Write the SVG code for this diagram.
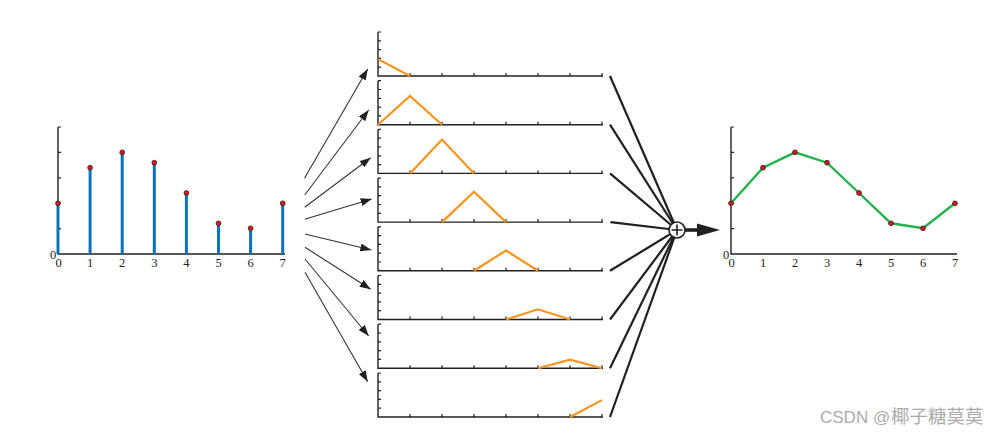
<svg xmlns="http://www.w3.org/2000/svg" width="1006" height="437" viewBox="0 0 1006 437">
<style>
.ax{stroke:#231f20;stroke-width:1.4;fill:none}
.tk{stroke:#231f20;stroke-width:1.2;fill:none}
.stem{stroke:#0a72b8;stroke-width:3}
.dot{fill:#d71920;stroke:#3a1a1a;stroke-width:0.8}
.lbl{font-family:"Liberation Serif",serif;font-size:12.5px;fill:#231f20;text-anchor:middle}
.tri{stroke:#f7941d;stroke-width:2.2;fill:none;stroke-linejoin:miter}
.arr{stroke:#333;stroke-width:1.1;fill:none}
.con{stroke:#231f20;stroke-width:2.2;fill:none}
.green{stroke:#22b14c;stroke-width:2.4;fill:none}
</style>
<defs>
<marker id="ah" markerUnits="userSpaceOnUse" markerWidth="11" markerHeight="8" refX="11" refY="4" orient="auto">
<path d="M0,0 L11,4 L0,8 z" fill="#231f20"/>
</marker>
<g id="ptick">
<path class="tk" d="M378,-8.8h3M378,-17.6h3M378,-26.4h3M378,-35.2h3M378,-44h3"/>
<path class="tk" d="M410,0v-3M442,0v-3M474,0v-3M506,0v-3M538,0v-3M570,0v-3M602,0v-3"/>
<path class="ax" d="M378,-44V0H603"/>
</g>
</defs>

<g id="input-chart">
<path class="ax" d="M58,127V254H285"/>
<path class="tk" d="M58,127h3M58,152.4h3M58,177.8h3M58,203.2h3M58,228.6h3"/>
<g id="stems">
<line class="stem" x1="58" y1="254" x2="58" y2="203.3" stroke-width="1.5"/>
<line class="stem" x1="90.1" y1="254" x2="90.1" y2="167.7"/>
<line class="stem" x1="122.2" y1="254" x2="122.2" y2="152.3"/>
<line class="stem" x1="154.3" y1="254" x2="154.3" y2="162.7"/>
<line class="stem" x1="186.4" y1="254" x2="186.4" y2="193"/>
<line class="stem" x1="218.5" y1="254" x2="218.5" y2="223.3"/>
<line class="stem" x1="250.6" y1="254" x2="250.6" y2="228.3"/>
<line class="stem" x1="282.7" y1="254" x2="282.7" y2="203.3"/>
</g>
<g id="input-dots">
<circle class="dot" cx="58" cy="203.3" r="2.4"/>
<circle class="dot" cx="90.1" cy="167.7" r="2.4"/>
<circle class="dot" cx="122.2" cy="152.3" r="2.4"/>
<circle class="dot" cx="154.3" cy="162.7" r="2.4"/>
<circle class="dot" cx="186.4" cy="193" r="2.4"/>
<circle class="dot" cx="218.5" cy="223.3" r="2.4"/>
<circle class="dot" cx="250.6" cy="228.3" r="2.4"/>
<circle class="dot" cx="282.7" cy="203.3" r="2.4"/>
</g>
<text class="lbl" x="53" y="259" font-size="11">0</text>
<text class="lbl" x="58.5" y="267">0</text>
<text class="lbl" x="90.1" y="267">1</text>
<text class="lbl" x="122.2" y="267">2</text>
<text class="lbl" x="154.3" y="267">3</text>
<text class="lbl" x="186.4" y="267">4</text>
<text class="lbl" x="218.5" y="267">5</text>
<text class="lbl" x="250.6" y="267">6</text>
<text class="lbl" x="282.7" y="267">7</text>
</g>

<g id="panel-0"><use href="#ptick" y="76"/><polyline class="tri" points="378,59.1 410,76"/></g>
<g id="panel-1"><use href="#ptick" y="124.7"/><polyline class="tri" points="378,124.7 410,95.9 442,124.7"/></g>
<g id="panel-2"><use href="#ptick" y="173.4"/><polyline class="tri" points="410,173.4 442,139.5 474,173.4"/></g>
<g id="panel-3"><use href="#ptick" y="222.1"/><polyline class="tri" points="442,222.1 474,191.7 506,222.1"/></g>
<g id="panel-4"><use href="#ptick" y="270.8"/><polyline class="tri" points="474,270.8 506,250.5 538,270.8"/></g>
<g id="panel-5"><use href="#ptick" y="319.5"/><polyline class="tri" points="506,319.5 538,309.3 570,319.5"/></g>
<g id="panel-6"><use href="#ptick" y="368.2"/><polyline class="tri" points="538,368.2 570,359.6 602,368.2"/></g>
<g id="panel-7"><use href="#ptick" y="417"/><polyline class="tri" points="570,417 602,400.1"/></g>

<g id="connectors">
<line class="arr" x1="304.5" y1="178.3" x2="367.7" y2="69" marker-end="url(#ah)"/>
<line class="arr" x1="304.7" y1="195" x2="368.7" y2="110" marker-end="url(#ah)"/>
<line class="arr" x1="304.7" y1="207.3" x2="370.7" y2="157.7" marker-end="url(#ah)"/>
<line class="arr" x1="304.7" y1="219.3" x2="371.7" y2="199" marker-end="url(#ah)"/>
<line class="arr" x1="305" y1="234" x2="371.3" y2="250" marker-end="url(#ah)"/>
<line class="arr" x1="305" y1="247.3" x2="370.7" y2="289.3" marker-end="url(#ah)"/>
<line class="arr" x1="305" y1="259" x2="368.7" y2="336" marker-end="url(#ah)"/>
<line class="arr" x1="305" y1="272.3" x2="367.7" y2="381.7" marker-end="url(#ah)"/>
<line class="con" x1="610" y1="76" x2="677" y2="230"/>
<line class="con" x1="610" y1="124.7" x2="677" y2="230"/>
<line class="con" x1="610" y1="173.4" x2="677" y2="230"/>
<line class="con" x1="610.5" y1="222.1" x2="677" y2="230"/>
<line class="con" x1="610" y1="270.8" x2="677" y2="230"/>
<line class="con" x1="610" y1="319.5" x2="677" y2="230"/>
<line class="con" x1="610" y1="368.2" x2="677" y2="230"/>
<line class="con" x1="610" y1="417" x2="677" y2="230"/>
<line x1="684" y1="230" x2="700" y2="230" stroke="#231f20" stroke-width="3.6"/>
<polygon points="697,223.6 720,230 697,236.4" fill="#231f20"/>
</g>

<g id="sum">
<circle cx="677" cy="230" r="8" fill="#fff" stroke="#231f20" stroke-width="1.6"/>
<path d="M671.5,230h11M677,224.5v11" stroke="#231f20" stroke-width="1.6"/>
</g>

<g id="output-chart">
<path class="ax" d="M731,127V254H957"/>
<path class="tk" d="M731,127h3M731,152.4h3M731,177.8h3M731,203.2h3M731,228.6h3"/>
<polyline class="green" points="731,203.3 763,167.7 795,152.3 827,162.7 859,193 891,223.3 923,228.3 955,203.3"/>
<g id="output-dots">
<circle class="dot" cx="731" cy="203.3" r="2.4"/>
<circle class="dot" cx="763" cy="167.7" r="2.4"/>
<circle class="dot" cx="795" cy="152.3" r="2.4"/>
<circle class="dot" cx="827" cy="162.7" r="2.4"/>
<circle class="dot" cx="859" cy="193" r="2.4"/>
<circle class="dot" cx="891" cy="223.3" r="2.4"/>
<circle class="dot" cx="923" cy="228.3" r="2.4"/>
<circle class="dot" cx="955" cy="203.3" r="2.4"/>
</g>
<text class="lbl" x="726" y="259" font-size="11">0</text>
<text class="lbl" x="731.5" y="267">0</text>
<text class="lbl" x="763" y="267">1</text>
<text class="lbl" x="795" y="267">2</text>
<text class="lbl" x="827" y="267">3</text>
<text class="lbl" x="859" y="267">4</text>
<text class="lbl" x="891" y="267">5</text>
<text class="lbl" x="923" y="267">6</text>
<text class="lbl" x="955" y="267">7</text>
</g>

<text x="820" y="423" font-family="'Liberation Sans','Noto Sans CJK SC',sans-serif" font-size="17" fill="#ababab">CSDN @<tspan x="891" font-size="18.5">椰子糖莫莫</tspan></text>
</svg>
